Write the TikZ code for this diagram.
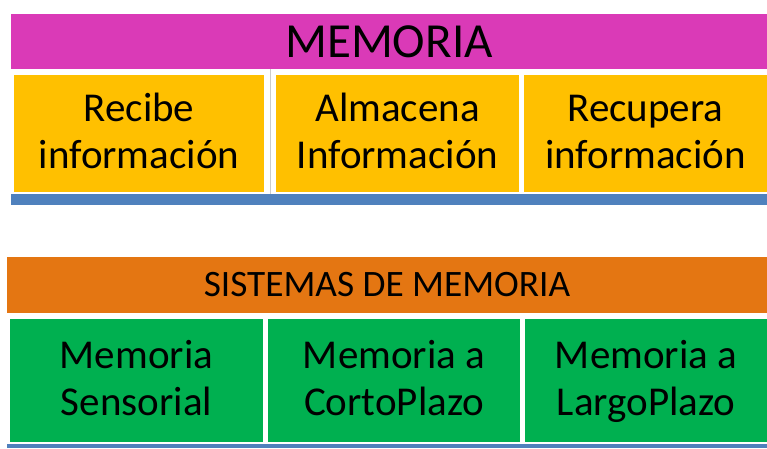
\documentclass[tikz,border=0pt]{standalone}
\usepackage{fontspec}
\setmainfont{Carlito}
\usetikzlibrary{positioning}
\definecolor{titulo}{RGB}{218,58,183}
\definecolor{amarillo}{RGB}{255,192,0}
\definecolor{barra}{RGB}{79,129,189}
\definecolor{naranja}{RGB}{228,118,18}
\definecolor{verde}{RGB}{0,176,80}
\newcommand{\alto}{\rule{0pt}{37pt}}
\newcommand{\bajo}{\rule[-14pt]{0pt}{14pt}}

\begin{document}
\begin{tikzpicture}
  [x=1pt,y=-1pt,every node/.style={rectangle,inner sep=0pt,align=center,text=black},
   cabecera/.style={fill=titulo,minimum height=55pt,font=\fontsize{49}{56}\selectfont},
   funcion/.style={fill=amarillo,minimum height=117pt,font=\fontsize{41}{46.5}\selectfont},
   sistema/.style={fill=naranja,minimum height=56pt,font=\fontsize{37.3}{44}\selectfont},
   tipo/.style={fill=verde,minimum height=123pt,font=\fontsize{41}{47}\selectfont},
   base/.style={fill=barra,minimum height=#1}]
  \useasboundingbox (0,0) rectangle (767,448);
  % parte de arriba
  \node[cabecera,minimum width=756pt] (mem) at (389,41.5) {MEMORIA};
  \node[funcion,minimum width=250pt] (n1) at (139,133.5) {\alto Recibe\\información\bajo};
  \node[funcion,minimum width=243pt] (n2) at (397.5,133.5) {\alto Almacena\\Información\bajo};
  \node[funcion,minimum width=243pt] (n3) at (645.5,133.5) {\alto Recupera\\información\bajo};
  \node[base=11pt,minimum width=756pt] (b1) at (389,199.5) {};
  \coordinate (c1) at (270,69);
  \draw[gray!40,line width=.8pt] (c1) -- (c1 |- b1.north);
  % parte de abajo
  \node[sistema,minimum width=760pt] (sis) at (387,285) {SISTEMAS DE MEMORIA};
  \node[tipo,minimum width=253pt] (n4) at (136.5,380.5) {\alto Memoria\\Sensorial\bajo};
  \node[tipo,minimum width=252pt] (n5) at (394,380.5) {\alto Memoria a\\CortoPlazo\bajo};
  \node[tipo,minimum width=242pt] (n6) at (646,380.5) {\alto Memoria a\\LargoPlazo\bajo};
  \node[base=4pt,minimum width=760pt] (b2) at (387,446) {};

\end{tikzpicture}
\end{document}
